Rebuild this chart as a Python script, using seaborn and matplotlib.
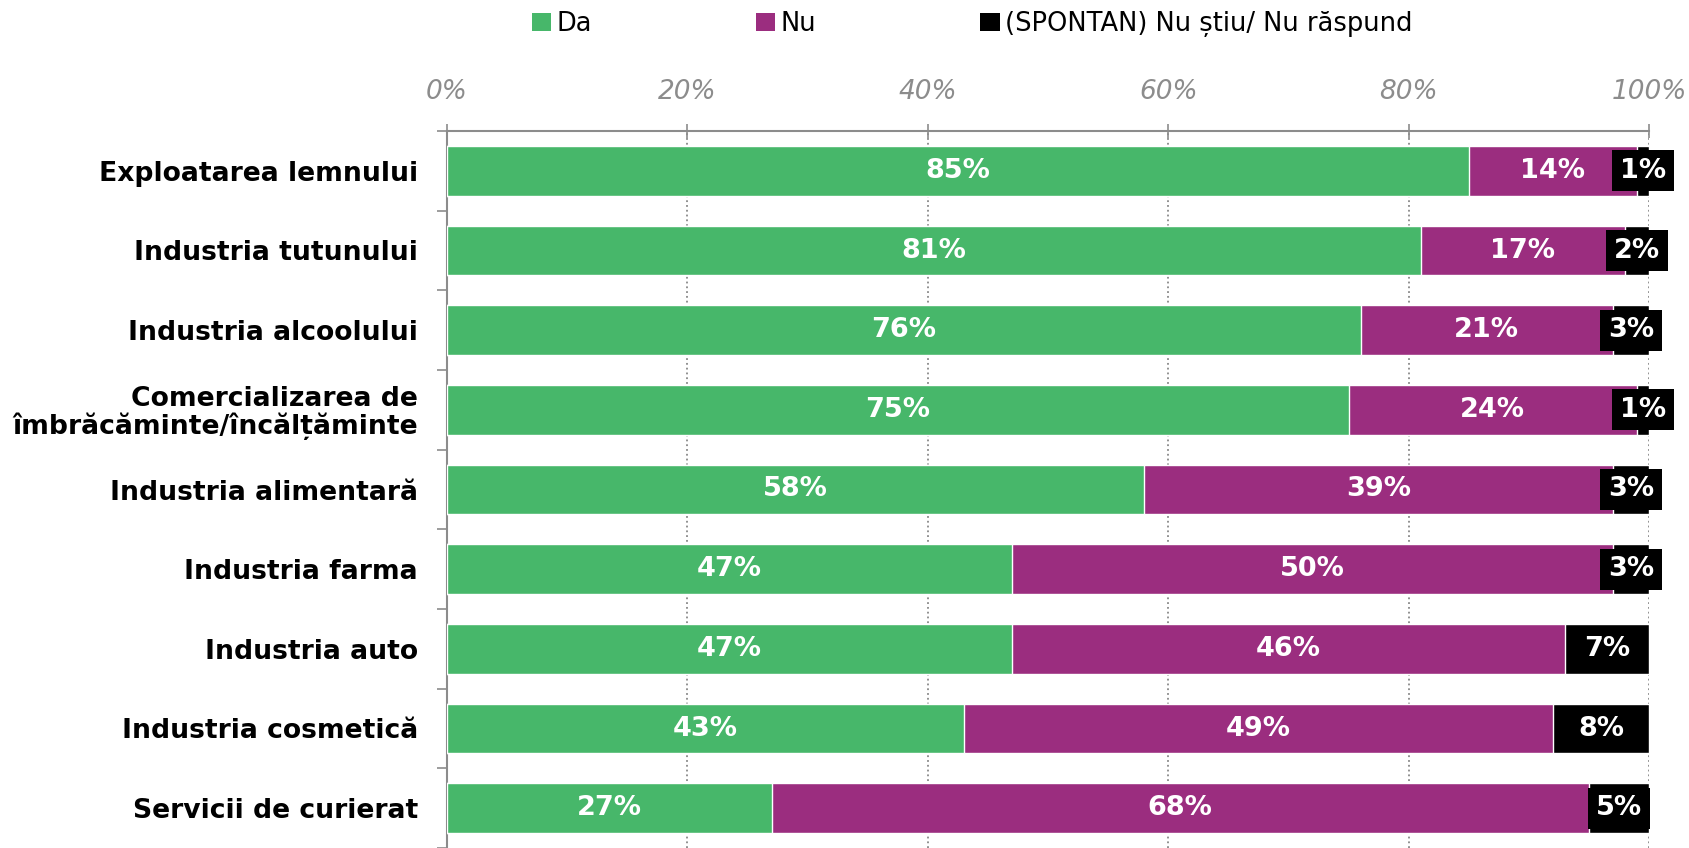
import pandas as pd
import matplotlib
import matplotlib.pyplot as plt
import seaborn as sns
from matplotlib.patches import Patch

# Data
categories = ['Exploatarea lemnului', 'Industria tutunului', 'Industria alcoolului',
              'Comercializarea de\nîmbrăcăminte/încălțăminte', 'Industria alimentară',
              'Industria farma', 'Industria auto', 'Industria cosmetică', 'Servicii de curierat']
da = [85, 81, 76, 75, 58, 47, 47, 43, 27]
nu = [14, 17, 21, 24, 39, 50, 46, 49, 68]
ns = [1, 2, 3, 1, 3, 3, 7, 8, 5]
series_names = ['Da', 'Nu', '(SPONTAN) Nu știu/ Nu răspund']
colors = ['#47B76A', '#9B2D7F', '#000000']

df = pd.DataFrame({'cat': categories, 'Da': da, 'Nu': nu, 'NS': ns})
df['c1'] = df['Da']
df['c2'] = df['Da'] + df['Nu']
df['c3'] = df['Da'] + df['Nu'] + df['NS']

sns.set_theme(style='white')
plt.rcParams['font.family'] = ['DejaVu Sans']

fig = plt.figure(figsize=(16.89, 8.48), dpi=100)
ax = fig.add_axes([447 / 1689, 0, (1649 - 447) / 1689, 1 - 131 / 848])

# stacked bars drawn as cumulative layers
for col, color in zip(['c3', 'c2', 'c1'], colors[::-1]):
    sns.barplot(data=df, x=col, y='cat', orient='h', color=color, width=0.62,
                saturation=1, ax=ax, zorder=3)

ax.set_xlim(0, 100)
ax.set_ylim(8.5, -0.5)
ax.set_xlabel('')
ax.set_ylabel('')

# segment labels
for i in range(len(categories)):
    lefts = [0, da[i], da[i] + nu[i]]
    widths = [da[i], nu[i], ns[i]]
    for k in range(3):
        x = lefts[k] + widths[k] / 2
        txt = f'{widths[k]}%'
        if k == 2:
            ax.text(x, i, txt, ha='center', va='center', color='white', fontsize=19.5,
                    fontweight='bold', zorder=5, clip_on=False,
                    bbox=dict(facecolor='black', edgecolor='none', pad=5.5))
        else:
            ax.text(x, i, txt, ha='center', va='center', color='white', fontsize=19.5,
                    fontweight='bold', zorder=5)

# axes styling
ax.xaxis.tick_top()
ax.set_xticks([0, 20, 40, 60, 80, 100])
ax.set_xticklabels([f'{v}%' for v in [0, 20, 40, 60, 80, 100]],
                   fontsize=19, style='italic', color='#8C8C8C')
ax.tick_params(axis='x', direction='inout', length=10, color='#8C8C8C', width=1.2, pad=14)
ax.grid(axis='x', linestyle=':', color='#888888', linewidth=1.3, zorder=0)
ax.grid(axis='y', visible=False)

ax.set_yticks(range(len(categories)))
ax.set_yticklabels(categories, fontsize=19.2, fontweight='bold', color='black',
                   linespacing=1.0)
ax.set_yticks([i - 0.5 for i in range(len(categories) + 1)], minor=True)
ax.tick_params(axis='y', which='major', length=0, pad=21)
ax.tick_params(axis='y', which='minor', direction='out', length=7, color='#8C8C8C', width=1.2, left=True)

for side in ['right', 'bottom']:
    ax.spines[side].set_visible(False)
for side in ['top', 'left']:
    ax.spines[side].set_color('#8C8C8C')
    ax.spines[side].set_linewidth(1.5)

# legend
handles = [Patch(facecolor=c, edgecolor='none') for c in colors]
fig.legend(handles, series_names, loc='center', bbox_to_anchor=(972 / 1689, 1 - 24 / 848),
           ncol=3, frameon=False, handlelength=0.75, handleheight=0.75, handletextpad=0.2,
           columnspacing=6.4, prop={'size': 18.5}, labelcolor='black')

fig.savefig('out.png', dpi=100)
